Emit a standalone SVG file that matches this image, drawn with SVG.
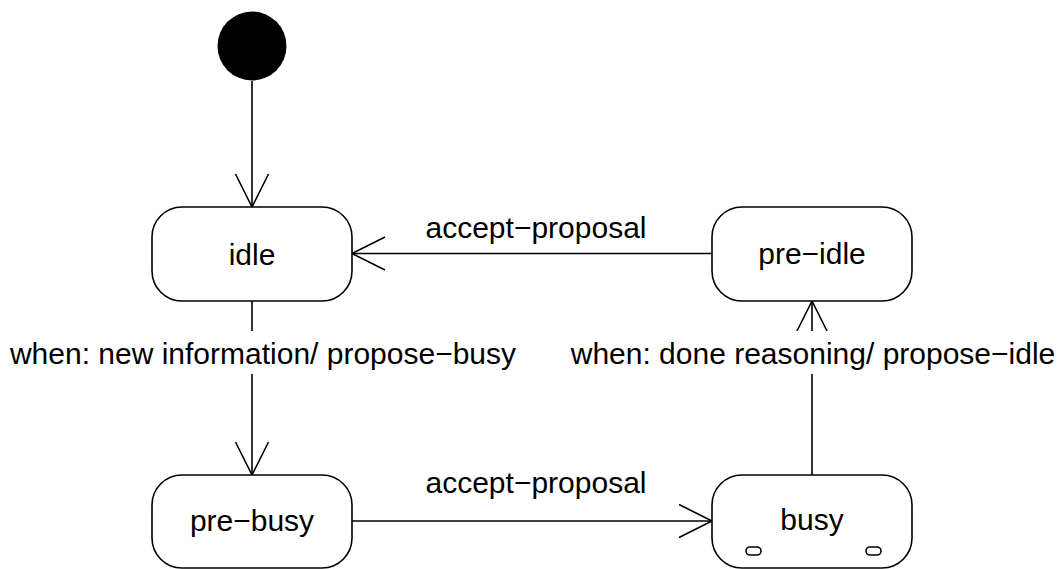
<svg xmlns="http://www.w3.org/2000/svg" width="1063" height="569" viewBox="0 0 1063 569">
<style>
.state{fill:#fff;stroke:#000;stroke-width:1.6}
.conn{fill:none;stroke:#000;stroke-width:1.6}
.lbl{font-family:"Liberation Sans",Arial,sans-serif;font-size:30px;fill:#000;text-anchor:middle}
.bg{fill:#fff;stroke:none}
</style>
<defs>
<marker id="open" markerUnits="userSpaceOnUse" markerWidth="40" markerHeight="40" viewBox="-36 -20 40 40" refX="0" refY="0" orient="auto">
<path d="M -33 -16.5 L 0 0 L -33 16.5" fill="none" stroke="#000" stroke-width="1.6"/>
</marker>
</defs>
<rect x="0" y="0" width="1063" height="569" fill="#fff"/>
<g id="connectors">
<line class="conn" x1="252" y1="81" x2="252" y2="207" marker-end="url(#open)"/>
<line class="conn" x1="712" y1="253.5" x2="352" y2="253.5" marker-end="url(#open)"/>
<line class="conn" x1="352" y1="521" x2="712" y2="521" marker-end="url(#open)"/>
<line class="conn" x1="252" y1="301" x2="252" y2="475" marker-end="url(#open)"/>
<line class="conn" x1="812" y1="475" x2="812" y2="301" marker-end="url(#open)"/>
<rect class="bg" x="0" y="331" width="530" height="43"/>
<rect class="bg" x="560" y="331" width="503" height="43"/>
<text class="lbl" x="263" y="364">when: new information/ propose−busy</text>
<text class="lbl" x="813" y="364">when: done reasoning/ propose−idle</text>
<text class="lbl" x="536" y="238">accept−proposal</text>
<text class="lbl" x="536" y="493">accept−proposal</text>
</g>
<g id="initial">
<circle cx="252" cy="46" r="34.5" fill="#000"/>
</g>
<g id="idle">
<rect class="state" x="152" y="207" width="200" height="94" rx="30" ry="30"/>
<text class="lbl" x="252" y="265">idle</text>
</g>
<g id="pre-idle">
<rect class="state" x="712" y="207" width="200" height="94" rx="30" ry="30"/>
<text class="lbl" x="812" y="264">pre−idle</text>
</g>
<g id="pre-busy">
<rect class="state" x="152" y="475" width="200" height="93" rx="30" ry="30"/>
<text class="lbl" x="252" y="531">pre−busy</text>
</g>
<g id="busy">
<rect class="state" x="712" y="475" width="200" height="93" rx="30" ry="30"/>
<text class="lbl" x="812" y="530">busy</text>
<rect class="state" x="746" y="547" width="15" height="8" rx="4" ry="4"/>
<rect class="state" x="866" y="547" width="15" height="8" rx="4" ry="4"/>
</g>
</svg>
